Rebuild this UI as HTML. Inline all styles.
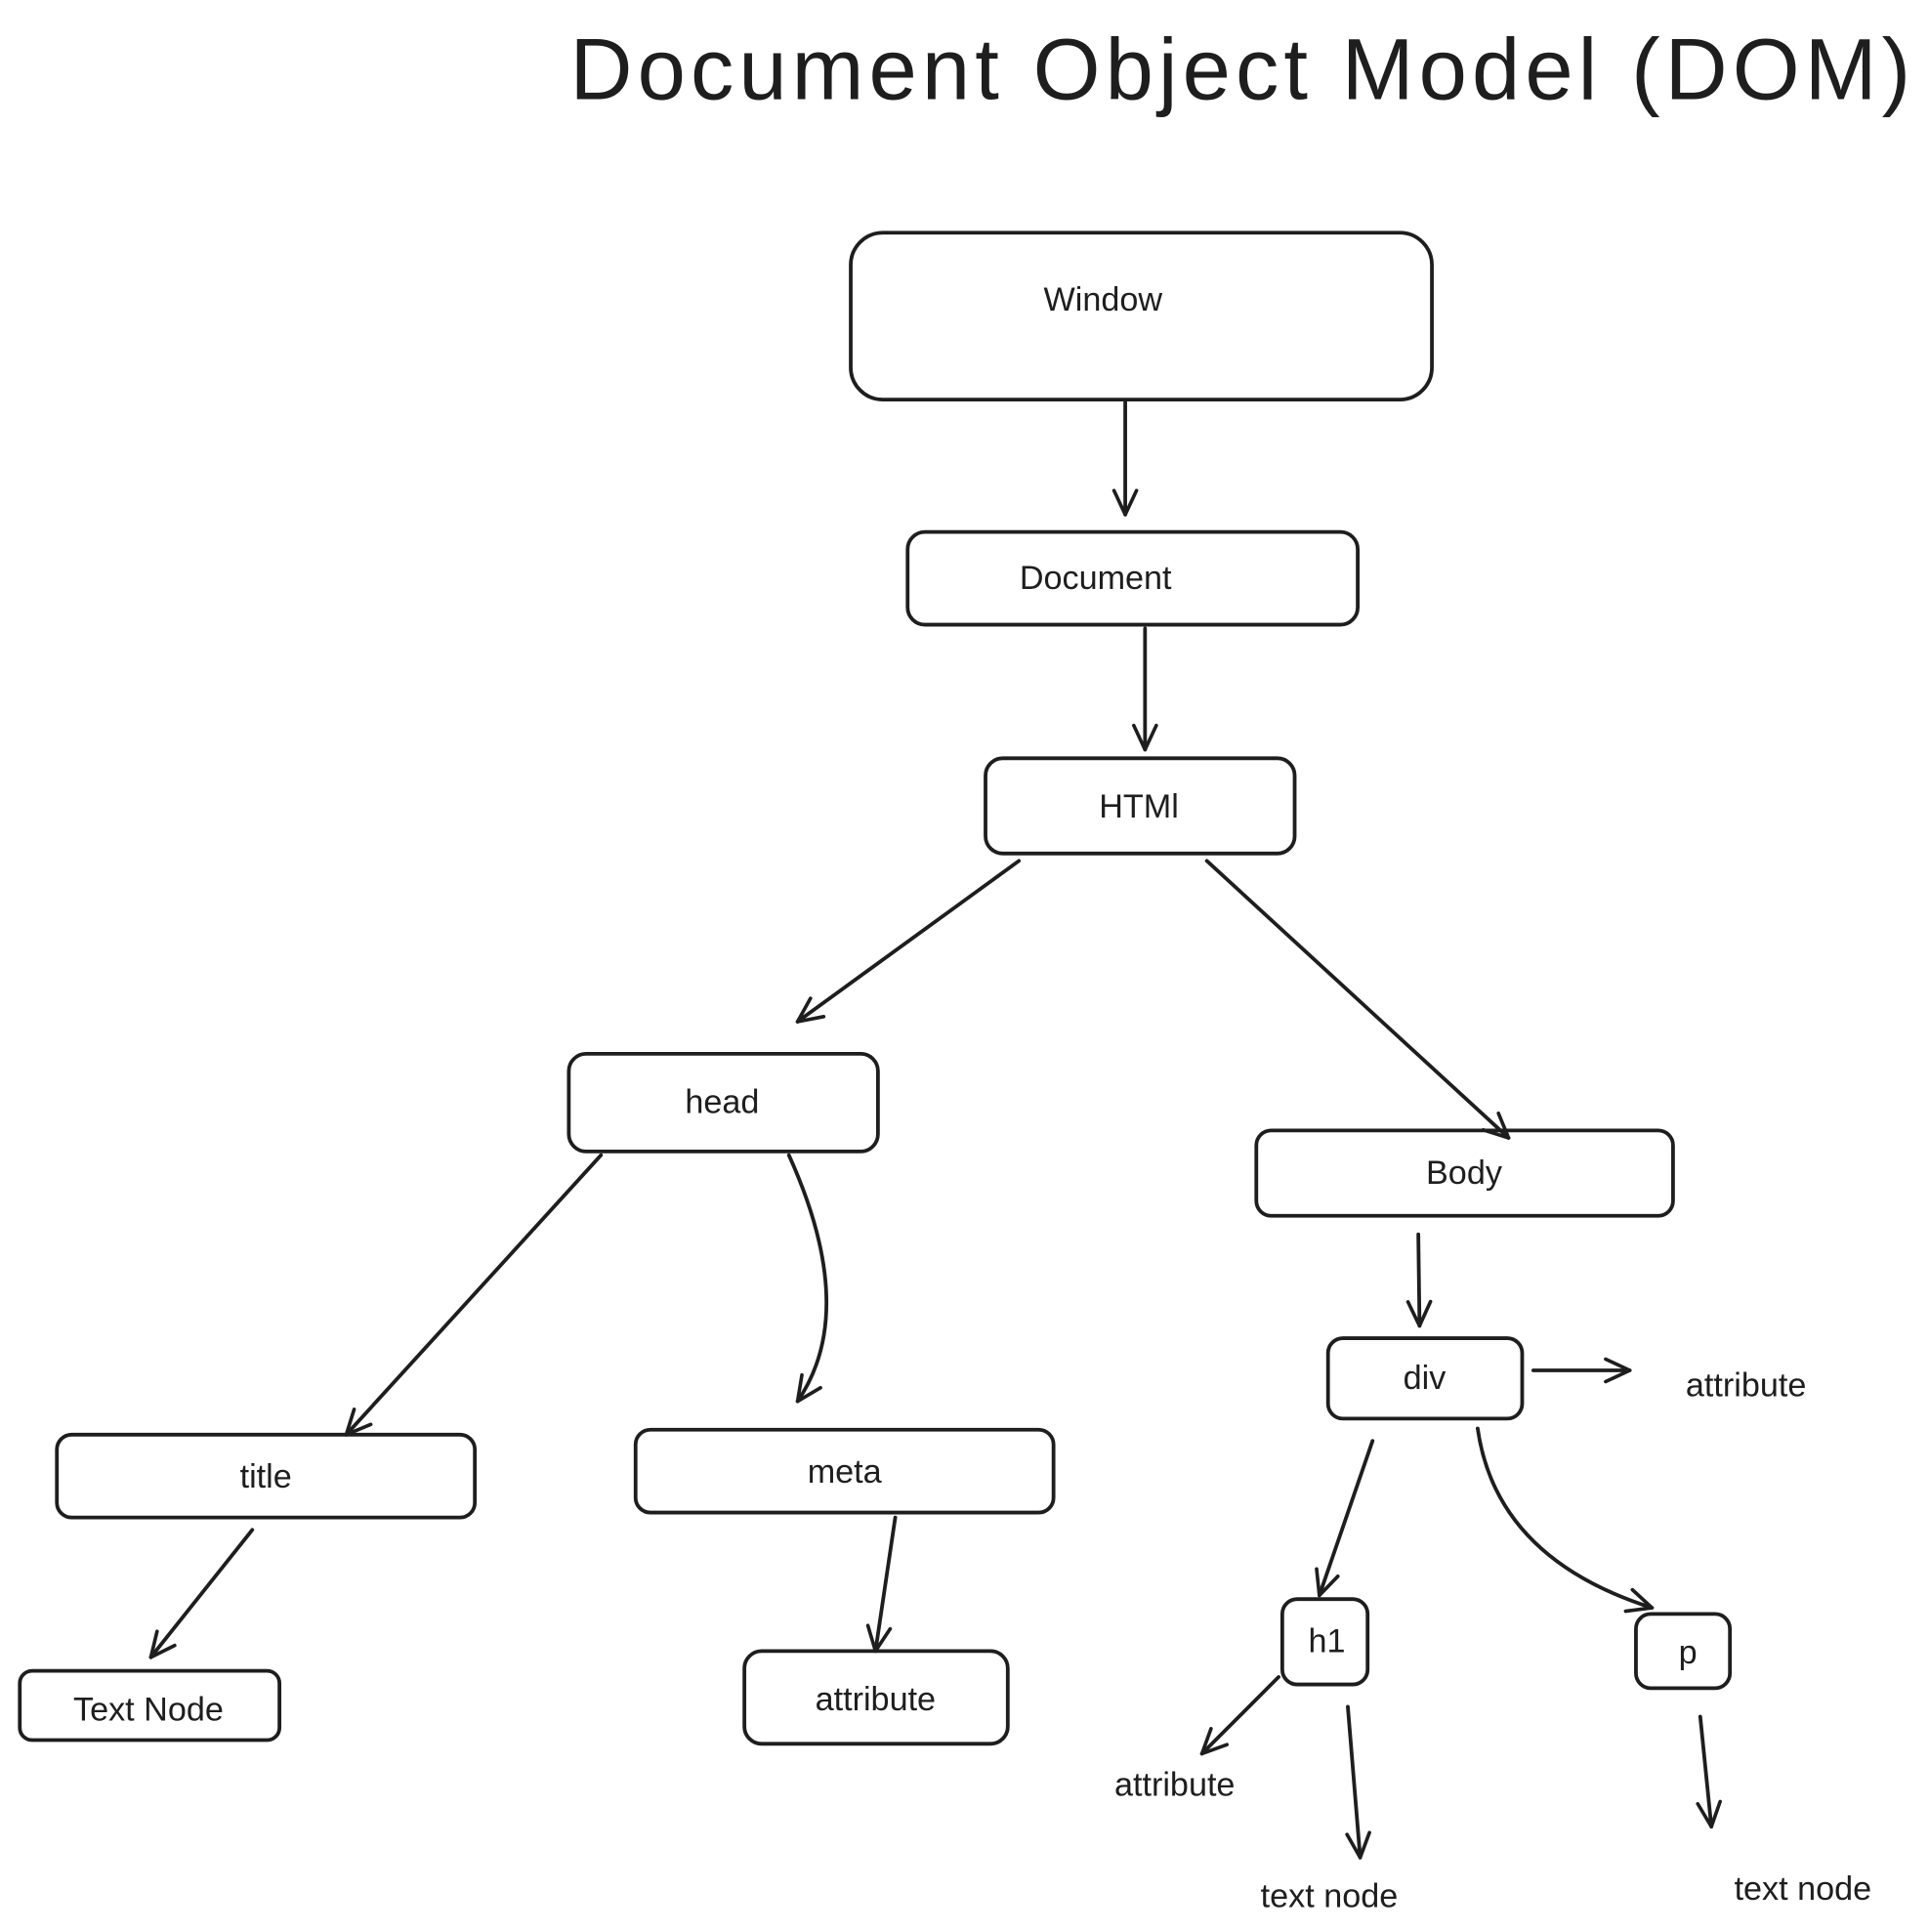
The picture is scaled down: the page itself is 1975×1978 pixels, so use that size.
<!DOCTYPE html>
<html><head><meta charset="utf-8"><style>
html,body{margin:0;padding:0;background:#fff;}
svg{display:block;}
text{font-family:"Liberation Sans",sans-serif;fill:#1e1e1e;}
</style></head><body>
<svg width="1975" height="1978" viewBox="0 0 1560 1562" xmlns="http://www.w3.org/2000/svg">
<defs>
<marker id="a" viewBox="0 0 20 20" refX="18" refY="10" markerWidth="26" markerHeight="26" markerUnits="userSpaceOnUse" orient="auto">
<path d="M3,3 L18,10 L3,17" fill="none" stroke="#1e1e1e" stroke-width="2.2" stroke-linecap="round" stroke-linejoin="round"/>
</marker>
</defs>
<g fill="none" stroke="#1e1e1e" stroke-width="3" stroke-linecap="round">
<rect x="688" y="188" width="470" height="135" rx="26"/>
<rect x="734" y="430" width="364" height="75" rx="14"/>
<rect x="797" y="613" width="250" height="77" rx="14"/>
<rect x="460" y="852" width="250" height="79" rx="14"/>
<rect x="1016" y="914" width="337" height="69" rx="12"/>
<rect x="1074" y="1082" width="157" height="65" rx="12"/>
<rect x="46" y="1160" width="338" height="67" rx="12"/>
<rect x="514" y="1156" width="338" height="67" rx="12"/>
<rect x="16" y="1351" width="210" height="56" rx="10"/>
<rect x="602" y="1335" width="213" height="75" rx="14"/>
<rect x="1037" y="1293" width="69" height="69" rx="12"/>
<rect x="1323" y="1305" width="76" height="60" rx="12"/>
</g>
<g fill="none" stroke="#1e1e1e" stroke-width="3" stroke-linecap="round" marker-end="url(#a)">
<path d="M910,325 L910,416"/>
<path d="M926,508 L926,606"/>
<path d="M824,696 L645,826"/>
<path d="M976,696 L1220,920"/>
<path d="M1147,998 L1148,1072"/>
<path d="M1240,1108 L1318,1108"/>
<path d="M486,934 L280,1160"/>
<path d="M638,934 Q695,1060 645,1133"/>
<path d="M204,1237 L122,1340"/>
<path d="M724,1227 L708,1335"/>
<path d="M1110,1165 L1067,1290"/>
<path d="M1195,1155 Q1210,1260 1336,1300"/>
<path d="M1034,1356 L972,1418"/>
<path d="M1090,1380 L1100,1502"/>
<path d="M1375,1388 L1384,1477"/>
</g>
<text x="1005" y="80" font-size="70" text-anchor="middle" letter-spacing="4">Document Object Model (DOM)</text>
<g font-size="27" text-anchor="middle">
<text x="892" y="251">Window</text>
<text x="886" y="476">Document</text>
<text x="921" y="661">HTMl</text>
<text x="584" y="900">head</text>
<text x="1184" y="957">Body</text>
<text x="1152" y="1123">div</text>
<text x="215" y="1203">title</text>
<text x="683" y="1199">meta</text>
<text x="120" y="1391">Text Node</text>
<text x="708" y="1383">attribute</text>
<text x="1073" y="1336">h1</text>
<text x="1365" y="1345">p</text>
<text x="1412" y="1129">attribute</text>
<text x="950" y="1452">attribute</text>
<text x="1075" y="1542">text node</text>
<text x="1458" y="1536">text node</text>
</g>
</svg>
</body></html>
